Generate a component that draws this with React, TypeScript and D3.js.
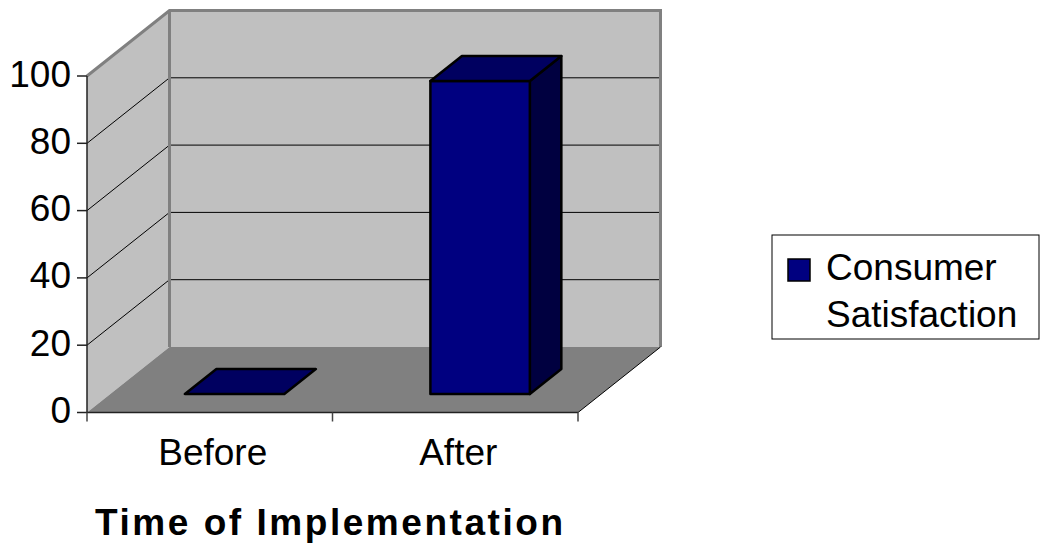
import React from "react";
import * as d3 from "d3";

const categories = ["Before", "After"];
const seriesName = ["Consumer", "Satisfaction"];
const values = [0, 93];
const yTicks = [0, 20, 40, 60, 80, 100];
const xTitle = "Time of Implementation";

const W = 1044;
const H = 548;
const FONT = "'Liberation Sans', Arial, Helvetica, sans-serif";

export default function App() {
  const x0 = 87;
  const x1 = 578;
  const DX = 82.5;
  const DY = -65.5;
  const x = d3.scaleBand<string>().domain(categories).range([x0, x1]).padding(0);
  const y = d3.scaleLinear().domain([0, 100]).range([412.5, 76]);
  const step = x.step();
  const t0 = 0.282;
  const t1 = 0.664;
  const barOff = step * 0.304;
  const barW = step * 0.405;

  const P = (px: number, py: number, t: number) => [px + DX * t, py + DY * t];
  const poly = (pts: number[][]) => pts.map((p) => p.join(",")).join(" ");

  const yTop = y(100);
  const yBot = y(0);

  const leftWall = [P(x0, yTop, 0), P(x0, yBot, 0), P(x0, yBot, 1), P(x0, yTop, 1)];
  const backWall = [P(x0, yTop, 1), P(x0, yBot, 1), P(x1, yBot, 1), P(x1, yTop, 1)];
  const floor = [P(x0, yBot, 0), P(x1, yBot, 0), P(x1, yBot, 1), P(x0, yBot, 1)];

  const wallGray = "#808080";

  return (
    <svg
      width={W}
      height={H}
      style={{ position: "absolute", left: 0, top: 0, background: "#fff" }}
      fontFamily={FONT}
    >
      <rect x={0} y={0} width={W} height={H} fill="#fff" />
      <polygon points={poly(leftWall)} fill="#C0C0C0" />
      <polygon points={poly(backWall)} fill="#C0C0C0" />
      <polygon points={poly(floor)} fill="#808080" />

      {/* gridlines */}
      {yTicks
        .filter((v) => v > 0 && v < 100)
        .map((v) => {
          const a = P(x0, y(v), 0);
          const b = P(x0, y(v), 1);
          const c = P(x1, y(v), 1);
          return (
            <polyline
              key={"g" + v}
              points={poly([a, b, c])}
              fill="none"
              stroke="#000"
              strokeWidth={1}
            />
          );
        })}

      {/* wall borders */}
      <polyline
        points={poly([P(x0, yTop, 0), P(x0, yTop, 1), P(x1, yTop, 1), P(x1, yBot, 1)])}
        fill="none"
        stroke={wallGray}
        strokeWidth={3}
        strokeLinejoin="miter"
      />
      <line
        x1={P(x0, yTop, 1)[0]}
        y1={P(x0, yTop, 1)[1]}
        x2={P(x0, yBot, 1)[0]}
        y2={P(x0, yBot, 1)[1]}
        stroke={wallGray}
        strokeWidth={3}
      />

      {/* floor right edge */}
      <line
        x1={x1}
        y1={yBot}
        x2={P(x1, yBot, 1)[0]}
        y2={P(x1, yBot, 1)[1]}
        stroke="#000"
        strokeWidth={1}
      />

      {/* value axis */}
      <line x1={x0} y1={yTop} x2={x0} y2={yBot} stroke="#222" strokeWidth={1.5} />
      {yTicks.map((v) => (
        <g key={"t" + v}>
          <line x1={x0 - 10} y1={y(v)} x2={x0} y2={y(v)} stroke="#222" strokeWidth={1.5} />
          <text
            x={71}
            y={y(v) + 10.5}
            textAnchor="end"
            fontSize={37}
            fill="#000"
          >
            {v}
          </text>
        </g>
      ))}

      {/* category axis */}
      <line x1={x0} y1={yBot} x2={x1} y2={yBot} stroke="#222" strokeWidth={1.5} />
      {[x0, ...categories.map((c) => (x(c) as number) + step)].map((px, i) => (
        <line key={"ct" + i} x1={px} y1={yBot} x2={px} y2={yBot + 9} stroke="#444" strokeWidth={1.5} />
      ))}
      {categories.map((c) => (
        <text
          key={"cl" + c}
          x={(x(c) as number) + step / 2 + 3}
          y={465}
          textAnchor="middle"
          fontSize={37}
          fill="#000"
        >
          {c}
        </text>
      ))}

      {/* bars */}
      {categories.map((c, i) => {
        const bx = (x(c) as number) + barOff;
        const yv = y(values[i]);
        const f = [P(bx, yv, t0), P(bx + barW, yv, t0), P(bx + barW, yBot, t0), P(bx, yBot, t0)];
        const top = [P(bx, yv, t0), P(bx + barW, yv, t0), P(bx + barW, yv, t1), P(bx, yv, t1)];
        const side = [P(bx + barW, yv, t0), P(bx + barW, yv, t1), P(bx + barW, yBot, t1), P(bx + barW, yBot, t0)];
        const hasHeight = Math.abs(yBot - yv) > 0.5;
        return (
          <g key={"b" + c} stroke="#000" strokeWidth={2.5} strokeLinejoin="round">
            {hasHeight && <polygon points={poly(side)} fill="#000040" />}
            {hasHeight && <polygon points={poly(f)} fill="#000080" />}
            <polygon points={poly(top)} fill="#000060" />
          </g>
        );
      })}

      {/* axis title */}
      <text
        x={329}
        y={535}
        textAnchor="middle"
        fontSize={37}
        fontWeight="bold"
        textLength={468}
        lengthAdjust="spacing"
        fill="#000"
      >
        {xTitle}
      </text>

      {/* legend */}
      <rect x={772} y={235} width={267} height={104} fill="#fff" stroke="#000" strokeWidth={1} />
      <rect x={788} y={259} width={22} height={22} fill="#000080" stroke="#000" strokeWidth={1.5} />
      <text x={826} y={280} fontSize={37} fill="#000">
        {seriesName[0]}
      </text>
      <text x={826} y={327} fontSize={37} fill="#000">
        {seriesName[1]}
      </text>
    </svg>
  );
}
